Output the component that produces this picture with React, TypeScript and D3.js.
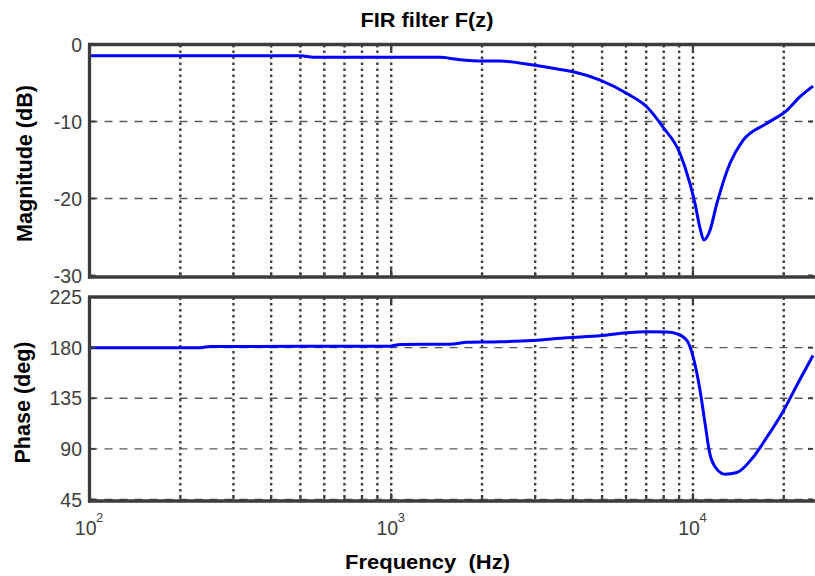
import React from "react";
import * as d3 from "d3";

// Frequency response of the FIR filter, sampled on a log axis (Hz)
const magFreq = [100, 500, 552, 1452, 1655, 2018, 2297, 2953, 3630, 4008, 4924, 6043, 7041, 7955, 9060, 9777, 10160, 10550, 10870, 11380, 12000, 13260, 14650, 17590, 20480, 22600, 25000];
const magDb = [-1.46, -1.46, -1.67, -1.67, -1.93, -2.15, -2.15, -2.67, -3.24, -3.55, -4.63, -6.37, -8.12, -10.72, -14.15, -18.06, -20.67, -23.8, -25.4, -24.2, -20.67, -15.46, -12.46, -10.24, -8.54, -6.81, -5.4];

const phaseFreq = [100, 233, 252, 993, 1071, 1567, 1786, 2297, 2953, 3826, 4924, 6043, 7041, 8202, 8857, 9557, 10000, 10550, 10970, 11380, 12000, 12760, 13990, 15810, 17590, 19720, 22600, 25000];
const phaseDeg = [180, 180, 181, 181.3, 182.8, 183, 184.8, 185.2, 186.4, 188.8, 190.5, 193.2, 194.2, 193.8, 192.2, 186.2, 172.5, 142.5, 112.5, 85.5, 72, 67.5, 69, 82.4, 100.4, 121.5, 151.5, 173];

const magTicks = [0, -10, -20, -30];
const magGrid = [-10, -20];
const phaseTicks = [225, 180, 135, 90, 45];
const decadeTicks = [100, 1000, 10000];
const decadeExp = ["2", "3", "4"];

const W = 815;
const H = 576;
const FONT = "'Liberation Sans', Arial, Helvetica, sans-serif";
const AXIS = "#3c3c3c";
const TICKTXT = "#404040";
const BLUE = "#0000ff";

const x = d3.scaleLog().domain([100, 25000]).range([89.5, 813]);
const yMag = d3.scaleLinear().domain([-30, 0]).range([275.5, 44.5]);
const yPh = d3.scaleLinear().domain([45, 225]).range([499.5, 297]);

// every 1..9 x decade within the domain, for the vertical grid
const gridFreqs: number[] = [];
for (let e = 2; e <= 4; e++) {
  for (let m = 1; m <= 9; m++) {
    const f = m * Math.pow(10, e);
    if (f > 100 && f < 25000) gridFreqs.push(f);
  }
}

type PanelProps = {
  id: string;
  y: d3.ScaleLinear<number, number>;
  ticks: number[];
  grid: number[];
  freqs: number[];
  vals: number[];
};

function Panel({ id, y, ticks, grid, freqs, vals }: PanelProps) {
  const [x0, x1] = x.range();
  const yTop = y.range()[1];
  const yBot = y.range()[0];
  const line = d3
    .line<number>()
    .x((_, i) => x(freqs[i]))
    .y((v) => y(v))
    .curve(d3.curveMonotoneX);
  return (
    <g>
      <defs>
        <clipPath id={id}>
          <rect x={x0} y={yTop} width={x1 - x0 + 4} height={yBot - yTop} />
        </clipPath>
      </defs>
      {/* vertical dotted grid */}
      {gridFreqs.map((f) => (
        <line key={"v" + f} x1={x(f)} x2={x(f)} y1={yTop} y2={yBot} stroke={AXIS} strokeWidth={2.4} strokeDasharray="2.6,3.4" />
      ))}
      {/* horizontal dashed grid */}
      {grid.map((t) => (
        <line key={"h" + t} x1={x0} x2={x1} y1={y(t)} y2={y(t)} stroke="#5a5a5a" strokeWidth={1.3} strokeDasharray="8,7" />
      ))}
      <path d={line(vals) || ""} fill="none" stroke={BLUE} strokeWidth={3} strokeLinejoin="round" clipPath={`url(#${id})`} />
      {/* inward ticks */}
      {ticks.map((t) => (
        <g key={"t" + t}>
          <line x1={x0} x2={x0 + 6} y1={y(t)} y2={y(t)} stroke={AXIS} strokeWidth={2} />
          <line x1={x1} x2={x1 - 5} y1={y(t)} y2={y(t)} stroke={AXIS} strokeWidth={2} />
        </g>
      ))}
      {gridFreqs.concat(decadeTicks).map((f, i) => {
        const len = decadeTicks.includes(f) ? 6 : 3;
        return (
          <g key={"xt" + i}>
            <line x1={x(f)} x2={x(f)} y1={yBot} y2={yBot - len} stroke={AXIS} strokeWidth={2} />
            <line x1={x(f)} x2={x(f)} y1={yTop} y2={yTop + len} stroke={AXIS} strokeWidth={2} />
          </g>
        );
      })}
      {/* axes box (right edge falls just outside the canvas) */}
      <line x1={x0 - 1.5} x2={W} y1={yTop} y2={yTop} stroke={AXIS} strokeWidth={3.3} />
      <line x1={x0 - 1.5} x2={W} y1={yBot + 1.5} y2={yBot + 1.5} stroke={AXIS} strokeWidth={3.3} />
      <line x1={x0} x2={x0} y1={yTop} y2={yBot + 3} stroke={AXIS} strokeWidth={3.3} />
      {/* y tick labels */}
      {ticks.map((t) => (
        <text key={"l" + t} x={82} y={y(t) + 7} textAnchor="end" fontSize={19.5} fill={TICKTXT} fontFamily={FONT}>
          {t}
        </text>
      ))}
    </g>
  );
}

export default function App() {
  return (
    <svg width={W} height={H} style={{ position: "absolute", left: 0, top: 0, background: "#fff" }} fontFamily={FONT}>
      <rect width={W} height={H} fill="#fff" />
      <text x={427} y={27} textAnchor="middle" fontSize={20} fontWeight="bold" textLength={133} lengthAdjust="spacingAndGlyphs">
        FIR filter F(z)
      </text>
      <Panel id="clipMag" y={yMag} ticks={magTicks} grid={magGrid} freqs={magFreq} vals={magDb} />
      <Panel id="clipPh" y={yPh} ticks={phaseTicks} grid={phaseTicks} freqs={phaseFreq} vals={phaseDeg} />
      <text transform="translate(32,163.5) rotate(-90)" textAnchor="middle" fontSize={21.5} fontWeight="bold" textLength={157} lengthAdjust="spacingAndGlyphs">
        Magnitude (dB)
      </text>
      <text transform="translate(30,402.5) rotate(-90)" textAnchor="middle" fontSize={21.5} fontWeight="bold" textLength={122} lengthAdjust="spacingAndGlyphs">
        Phase (deg)
      </text>
      {/* decade labels on the frequency axis */}
      {decadeTicks.map((f, i) => (
        <g key={"d" + f} fill={TICKTXT} fontSize={19.5}>
          <text x={x(f) + 7} y={534.5} textAnchor="end">10</text>
          <text x={x(f) + 6.5} y={521.5} fontSize={13}>{decadeExp[i]}</text>
        </g>
      ))}
      <text x={427.5} y={569} textAnchor="middle" fontSize={20} fontWeight="bold" textLength={165} lengthAdjust="spacingAndGlyphs" style={{ whiteSpace: "pre" }}>
        {"Frequency  (Hz)"}
      </text>
    </svg>
  );
}
